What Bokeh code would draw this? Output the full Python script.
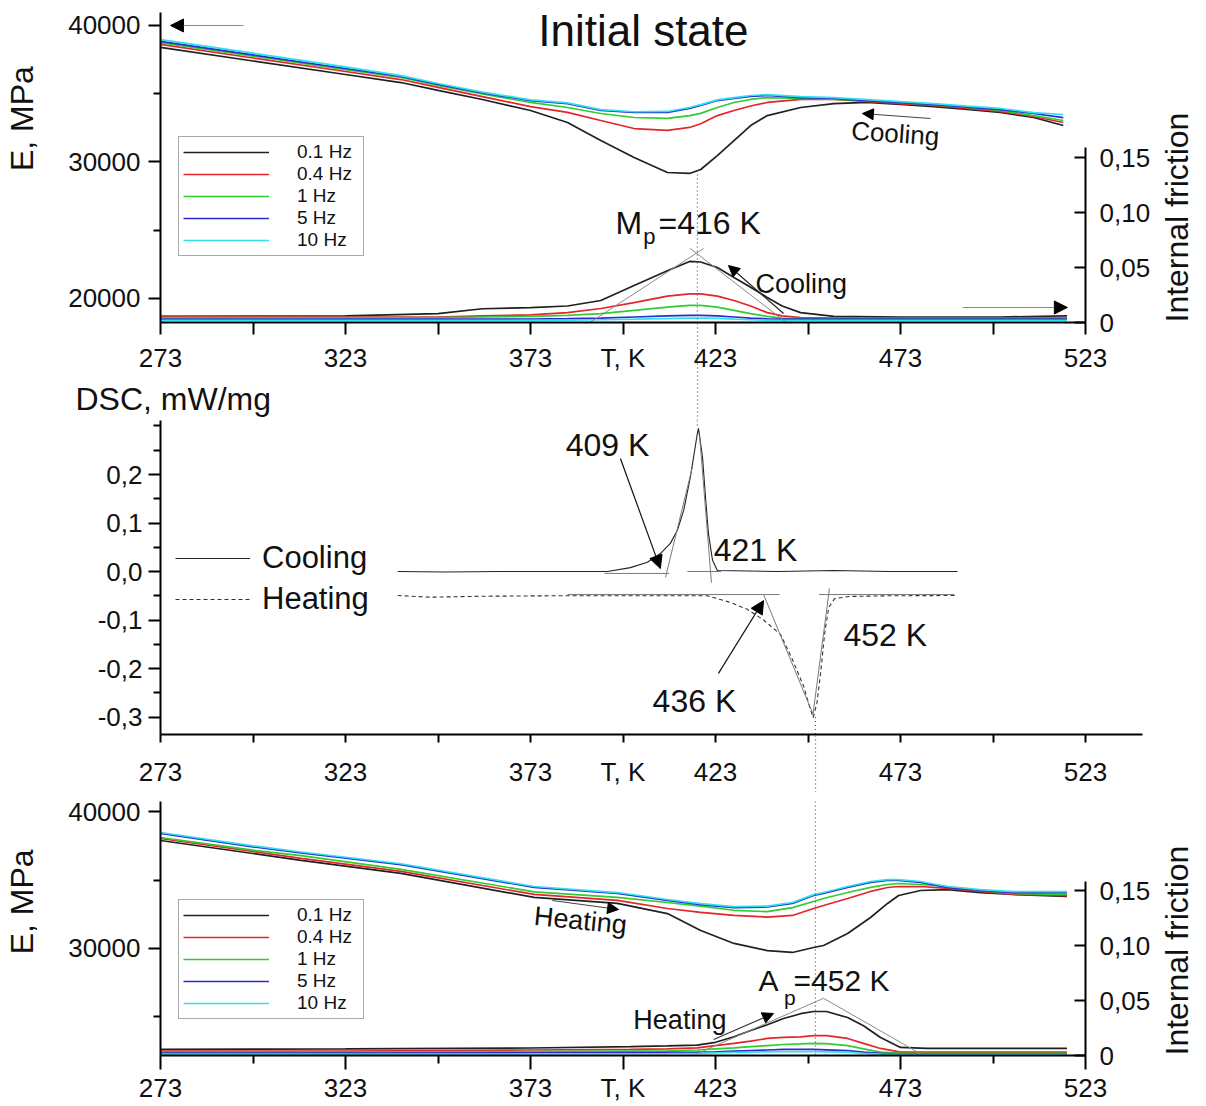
import numpy as np
from bokeh.plotting import figure
from bokeh.layouts import column
from bokeh.models import (Range1d, LinearAxis, FixedTicker, Label, Arrow, NormalHead,
                          Legend, LegendItem, CustomJSTickFormatter, Title)
from bokeh.embed import file_html
from bokeh.resources import INLINE

FONT = "Liberation Sans"
NB = "\u00a0"

# ---------------- data ----------------
freq_labels = ["0.1 Hz", "0.4 Hz", "1 Hz", "5 Hz", "10 Hz"]
freq_colors = ["#202020", "#e3262b", "#30cc30", "#2a2ad6", "#30e0ea"]

T_ticks_all = [273, 298, 323, 348, 373, 398, 423, 448, 473, 498, 523]
T_ticks_bot = [273, 323, 373, 398, 423, 473, 523]
T_minor_bot = [298, 348, 448, 498]

# Top panel (cooling): Young's modulus E, MPa
T_cool_E = [273, 298, 323, 338, 348, 360, 373, 383, 392, 401, 410, 416, 419, 423.5, 428, 432.5,
            437, 446, 455, 464, 473, 482, 491, 500, 509, 517]
E_cool_01 = [38390, 37400, 36410, 35820, 35240, 34580, 33770, 32890, 31570, 30330, 29230, 29160,
             29450, 30470, 31570, 32670, 33400, 33990, 34280, 34360, 34210, 34060, 33850, 33630, 33260, 32670]
E_cool_04 = [38610, 37620, 36630, 36040, 35460, 34790, 34060, 33630, 33040, 32450, 32310, 32530,
             32800, 33400, 33770, 34100, 34360, 34580, 34580, 34430, 34280, 34140, 33920, 33700, 33330, 32890]
E_cool_1 = [38750, 37760, 36770, 36190, 35610, 34980, 34360, 33990, 33550, 33260, 33190, 33400,
            33560, 33990, 34360, 34580, 34720, 34650, 34600, 34500, 34350, 34200, 33990, 33770, 33400, 33040]
E_cool_5 = [38830, 37840, 36850, 36260, 35680, 35060, 34500, 34280, 33770, 33630, 33630, 33920,
            34150, 34500, 34650, 34800, 34870, 34720, 34650, 34500, 34350, 34210, 34020, 33840, 33550, 33250]
E_cool_10 = [38970, 37970, 36970, 36330, 35750, 35120, 34550, 34330, 33830, 33680, 33700, 33990,
             34200, 34550, 34720, 34870, 34940, 34790, 34720, 34570, 34420, 34280, 34090, 33920, 33620, 33480]

# Top panel (cooling): internal friction
T_cool_Q = [273, 323, 348, 360, 373, 383, 392, 401, 410, 416, 419, 423.5, 428, 432.5, 437, 441,
            446, 455, 473, 500, 518]
Q_cool_01 = [0.0055, 0.006, 0.008, 0.0125, 0.0135, 0.015, 0.020, 0.0336, 0.047, 0.0555, 0.0550,
             0.050, 0.041, 0.032, 0.0227, 0.015, 0.009, 0.0055, 0.005, 0.005, 0.006]
Q_cool_04 = [0.0055, 0.005, 0.005, 0.006, 0.007, 0.009, 0.0127, 0.018, 0.024, 0.026, 0.026,
             0.024, 0.020, 0.015, 0.009, 0.006, 0.0045, 0.004, 0.004, 0.004, 0.0045]
Q_cool_1 = [0.0045, 0.0045, 0.0045, 0.005, 0.0055, 0.0065, 0.008, 0.011, 0.014, 0.0155, 0.0155,
            0.014, 0.011, 0.008, 0.0055, 0.004, 0.0035, 0.0035, 0.0035, 0.0035, 0.004]
Q_cool_5 = [0.003, 0.003, 0.003, 0.003, 0.0032, 0.0035, 0.004, 0.005, 0.006, 0.0064, 0.0064,
            0.006, 0.005, 0.004, 0.0033, 0.003, 0.003, 0.003, 0.003, 0.003, 0.003]
Q_cool_10 = [0.002, 0.002, 0.002, 0.002, 0.002, 0.0022, 0.0025, 0.003, 0.0036, 0.004, 0.004,
             0.0037, 0.003, 0.0025, 0.002, 0.002, 0.002, 0.002, 0.002, 0.002, 0.002]

# tangent construction for Mp (internal friction units)
Mp_tan_left_T = [385.7, 419.8]
Mp_tan_left_Q = [-0.0073, 0.0673]
Mp_tan_right_T = [416.2, 446.0]
Mp_tan_right_Q = [0.0673, -0.010]
T_Mp_line = 418.1
E_Mp_line_top = 29376

# Middle panel: DSC, mW/mg
T_dsc_cool = [337.1, 350, 365, 380, 393.8, 400.0, 404.6, 408.1, 410.8, 412.7, 414.4, 416.2, 418.1,
              418.4, 419.5, 420.3, 421.1, 422.2, 423.5, 440, 455, 470, 488.4]
dsc_cool = [0.0, -0.001, 0.0, 0.0, 0.0, 0.008, 0.019, 0.037, 0.058, 0.085, 0.126, 0.194, 0.285,
            0.295, 0.235, 0.153, 0.078, 0.023, 0.002, 0.0, 0.002, 0.0, 0.0]
T_dsc_heat = [337.1, 346.0, 360, 380, 400, 420.8, 427.1, 431.6, 436.0, 440.6, 443.7, 446.8, 448.4,
              449.4, 450.4, 451.4, 452.5, 453.6, 455.2, 459.2, 470, 487.6]
dsc_heat = [-0.0495, -0.053, -0.051, -0.050, -0.050, -0.050, -0.064, -0.078, -0.100, -0.130,
            -0.180, -0.236, -0.278, -0.301, -0.272, -0.210, -0.128, -0.074, -0.056, -0.0515, -0.050, -0.0495]

cool_base_L_T, cool_base_L_v = [393.0, 410.5], [-0.004, -0.004]
cool_tan_L_T, cool_tan_L_v = [409.5, 416.9], [-0.012, 0.220]
cool_base_R_T, cool_base_R_v = [415.4, 424.5], [0.0, 0.0]
cool_tan_R_T, cool_tan_R_v = [421.9, 418.7], [-0.023, 0.280]
heat_base_L_T, heat_base_L_v = [383.0, 440.3], [-0.0475, -0.0475]
heat_tan_L_T, heat_tan_L_v = [436.0, 449.3], [-0.0475, -0.293]
heat_base_R_T, heat_base_R_v = [451.0, 487.6], [-0.0475, -0.0475]
heat_tan_R_T, heat_tan_R_v = [453.8, 449.3], [-0.035, -0.297]
T_Ap_line = 450.0

# Bottom panel (heating): Young's modulus E, MPa
T_heat_E = [273, 298, 311, 338, 374, 396.5, 410, 419, 428, 437, 443.8, 449.5, 452.2, 458.7, 464.9,
            469.5, 472.5, 478.4, 485.7, 494.6, 503.5, 518]
E_heat_01 = [37910, 36960, 36450, 35500, 33740, 33300, 32560, 31320, 30370, 29850, 29710, 30070,
             30220, 31100, 32270, 33300, 33880, 34250, 34320, 34100, 33960, 33810]
E_heat_04 = [38060, 37110, 36600, 35650, 33960, 33520, 32930, 32640, 32420, 32300, 32420, 32930,
             33150, 33660, 34180, 34470, 34540, 34540, 34400, 34180, 33960, 33880]
E_heat_1 = [38130, 37200, 36800, 35800, 34150, 33740, 33370, 33100, 32800, 32700, 32990, 33440,
            33660, 34100, 34480, 34690, 34760, 34690, 34540, 34250, 34030, 33960]
E_heat_5 = [38430, 37450, 37000, 36150, 34470, 34030, 33520, 33220, 33000, 33040, 33300, 33880,
            34030, 34470, 34840, 34980, 34980, 34840, 34470, 34250, 34100, 34100]
E_heat_10 = [38500, 37520, 37070, 36210, 34540, 34100, 33590, 33290, 33070, 33110, 33370, 33950,
             34100, 34540, 34910, 35050, 35050, 34910, 34540, 34320, 34170, 34170]

# Bottom panel (heating): internal friction
T_heat_Q = [273, 323, 373, 400, 410, 418, 423, 428, 432.5, 437, 441.4, 446, 449.5, 453, 458.7,
            463, 467.6, 473, 480, 500, 518]
Q_heat_01 = [0.0055, 0.006, 0.0068, 0.008, 0.0088, 0.0095, 0.012, 0.017, 0.0227, 0.028, 0.0336,
             0.038, 0.040, 0.040, 0.0345, 0.027, 0.0164, 0.0073, 0.0064, 0.0064, 0.0064]
Q_heat_04 = [0.004, 0.004, 0.005, 0.0055, 0.006, 0.007, 0.009, 0.011, 0.013, 0.0155, 0.0165,
             0.017, 0.018, 0.018, 0.0155, 0.011, 0.0064, 0.003, 0.003, 0.003, 0.003]
Q_heat_1 = [0.003, 0.003, 0.0035, 0.004, 0.004, 0.005, 0.006, 0.007, 0.008, 0.009, 0.010,
            0.0105, 0.011, 0.0108, 0.009, 0.006, 0.003, 0.002, 0.002, 0.002, 0.002]
Q_heat_5 = [0.0022, 0.0022, 0.0024, 0.0026, 0.0028, 0.003, 0.0034, 0.004, 0.0045, 0.005, 0.0055,
            0.0055, 0.0055, 0.0052, 0.0045, 0.003, 0.002, 0.0015, 0.0015, 0.0015, 0.0015]
Q_heat_10 = [0.0012, 0.0012, 0.0014, 0.0016, 0.0018, 0.002, 0.0024, 0.0028, 0.003, 0.0033, 0.0035,
             0.0035, 0.0035, 0.0033, 0.003, 0.002, 0.0013, 0.001, 0.001, 0.001, 0.001]

Ap_tan_left_T, Ap_tan_left_Q = [418.1, 452.2], [0.0018, 0.052]
Ap_tan_right_T, Ap_tan_right_Q = [452.2, 479.2], [0.052, 0.0]

# ---------------- helpers ----------------
T_FMT_CODE = ("if (Math.abs(tick - 398) < 0.01) { return 'T, K'; } "
              "if (Math.abs((tick - 273) % 50) > 0.01) { return ''; } "
              "return tick.toFixed(0);")


def make_fig(fw, fh, xr, yr, mbl, mbr, mbt, mbb):
    p = figure(frame_width=fw, frame_height=fh, x_range=xr, y_range=yr, output_backend="svg",
               toolbar_location=None, min_border_left=mbl, min_border_right=mbr,
               min_border_top=mbt, min_border_bottom=mbb)
    p.grid.visible = False
    p.outline_line_color = None
    p.background_fill_color = "white"
    p.border_fill_color = "white"
    return p


def style_axis(ax, standoff=10, major_out=12, minor_out=7, size="26px"):
    ax.axis_line_color = "black"
    ax.axis_line_width = 2
    ax.major_tick_line_color = "black"
    ax.minor_tick_line_color = "black"
    ax.major_tick_line_width = 2
    ax.minor_tick_line_width = 2
    ax.major_tick_in = 0
    ax.minor_tick_in = 0
    ax.major_tick_out = major_out
    ax.minor_tick_out = minor_out
    ax.major_label_text_font = FONT
    ax.major_label_text_font_size = size
    ax.major_label_text_color = "#111111"
    ax.major_label_standoff = standoff


def dotted_minor(ax, length):
    ax.minor_tick_out = length
    ax.minor_tick_line_dash = "1 3"
    ax.minor_tick_line_color = "#555555"
    ax.minor_tick_line_width = 1.2


def add_label(p, x, y, text, size, align="left", angle=0.0):
    p.add_layout(Label(x=x, y=y, text=text, text_font=FONT, text_font_size=f"{size}px",
                       text_align=align, text_baseline="middle", angle=angle,
                       text_color="#111111"))


def add_arrow(p, x0, y0, x1, y1, color="#333333", head=12, width=1.2):
    p.add_layout(Arrow(end=NormalHead(size=head, fill_color="black", line_color="black",
                                      line_width=1),
                       x_start=x0, y_start=y0, x_end=x1, y_end=y1,
                       line_color=color, line_width=width))


def left_title(p, text, size, standoff):
    ax = LinearAxis(ticker=FixedTicker(ticks=[]), axis_label=text)
    ax.axis_line_color = None
    ax.major_tick_out = 0
    ax.major_tick_in = 0
    ax.minor_tick_out = 0
    ax.minor_tick_in = 0
    ax.major_label_standoff = 0
    ax.axis_label_standoff = standoff
    ax.axis_label_text_font = FONT
    ax.axis_label_text_font_size = f"{size}px"
    ax.axis_label_text_font_style = "normal"
    ax.axis_label_text_color = "#111111"
    p.add_layout(ax, "left")


def right_title(p, text, size, standoff):
    # rotated single tick label that starts at friction = 0 and reads upwards
    ax = LinearAxis(y_range_name="if")
    ax.ticker = FixedTicker(ticks=[0.0])
    ax.major_label_overrides = {0.0: text}
    ax.major_label_orientation = np.pi / 2
    ax.axis_line_color = None
    ax.major_tick_out = 0
    ax.major_tick_in = 0
    ax.minor_tick_out = 0
    ax.minor_tick_in = 0
    ax.major_label_standoff = standoff
    ax.major_label_text_font = FONT
    ax.major_label_text_font_size = f"{size}px"
    ax.major_label_text_color = "#111111"
    p.add_layout(ax, "right")


def right_axis(p, top):
    ax = LinearAxis(y_range_name="if")
    ax.ticker = FixedTicker(ticks=[0.0, 0.05, 0.1, 0.15])
    ax.major_label_overrides = {0.0: "0", 0.05: "0,05", 0.1: "0,10", 0.15: "0,15"}
    ax.bounds = (0.0, top)
    style_axis(ax, standoff=14, major_out=0, minor_out=0)
    ax.major_tick_in = 11
    p.add_layout(ax, "right")


def freq_panel(p, T_E, E_list, T_Q, Q_list, legend_loc):
    rs = []
    for E, c in zip(E_list, freq_colors):
        rs.append(p.line(T_E, E, line_color=c, line_width=1.7))
    for Q, c in zip(Q_list, freq_colors):
        p.line(T_Q, Q, line_color=c, line_width=1.7, y_range_name="if")
    leg = Legend(items=[LegendItem(label=l, renderers=[r]) for l, r in zip(freq_labels, rs)],
                 location=legend_loc, border_line_color="#555555", border_line_width=1,
                 background_fill_color="white", label_text_font=FONT,
                 label_text_font_size="19px", label_text_color="#111111",
                 glyph_width=86, glyph_height=20, label_height=20, label_width=62,
                 label_standoff=28, spacing=0, padding=4, margin=0)
    p.add_layout(leg)
    p.yaxis.ticker = FixedTicker(ticks=[20000, 30000, 40000], minor_ticks=[25000, 35000])
    p.yaxis.formatter = CustomJSTickFormatter(code="return tick.toFixed(0);")
    style_axis(p.yaxis[0], standoff=8)


# ---------------- top panel ----------------
pA = make_fig(925, 310, Range1d(273, 523), Range1d(18240, 40951), 160, 121, 12, 98)
pA.extra_y_ranges = {"if": Range1d(0, 0.28182)}
freq_panel(pA, T_cool_E, [E_cool_01, E_cool_04, E_cool_1, E_cool_5, E_cool_10],
           T_cool_Q, [Q_cool_01, Q_cool_04, Q_cool_1, Q_cool_5, Q_cool_10], (18, 66))
right_axis(pA, 0.159)
left_title(pA, NB * 11 + "E, MPa", 32, 26)
right_title(pA, "Internal friction", 32, 23)
pA.xaxis.ticker = FixedTicker(ticks=T_ticks_all, minor_ticks=[T_Mp_line])
pA.xaxis.formatter = CustomJSTickFormatter(code=T_FMT_CODE)
style_axis(pA.xaxis[0], standoff=-78, major_out=12)
dotted_minor(pA.xaxis[0], 98)
pA.add_layout(Title(text="DSC, mW/mg", align="left", offset=-85, text_font=FONT,
                    text_font_size="32px", text_font_style="normal", text_color="#111111",
                    standoff=6), "below")

pA.line(Mp_tan_left_T, Mp_tan_left_Q, line_color="#8a8a8a", line_width=1, y_range_name="if")
pA.line(Mp_tan_right_T, Mp_tan_right_Q, line_color="#8a8a8a", line_width=1, y_range_name="if")
pA.line([T_Mp_line, T_Mp_line], [E_Mp_line_top, 18240], line_color="#555555", line_width=1.2,
        line_dash="1 3")

add_label(pA, 403.5, 39632, "Initial state", 44, align="center")
add_label(pA, 471.6, 32086, "Cooling", 26, align="center", angle=-0.07)
add_label(pA, 433.8, 21097, "Cooling", 27)
add_label(pA, 396.0, 25566, "M", 32)
add_label(pA, 403.5, 24540, "p", 22)
add_label(pA, 407.6, 25566, "=416 K", 32)
add_arrow(pA, 295.4, 40000, 275.7, 40000, color="#8a8a8a", head=13)
add_arrow(pA, 489.8, 19339, 518.1, 19339, color="#8a8a8a", head=13)
add_arrow(pA, 481.1, 33185, 462.7, 33551, color="#444444", head=11)
add_arrow(pA, 441.4, 18899, 426.5, 22416, color="#222222", head=11)

# ---------------- DSC panel ----------------
pB = make_fig(982, 314, Range1d(273, 538.405), Range1d(-0.33608, 0.31134), 160, 64, 0, 58)
r_cool = pB.line(T_dsc_cool, dsc_cool, line_color="#222222", line_width=1.1)
r_heat = pB.line(T_dsc_heat, dsc_heat, line_color="#333333", line_width=1.1, line_dash="4 3")
for tx, ty in [(cool_base_L_T, cool_base_L_v), (cool_tan_L_T, cool_tan_L_v),
               (cool_base_R_T, cool_base_R_v), (cool_tan_R_T, cool_tan_R_v),
               (heat_base_L_T, heat_base_L_v), (heat_tan_L_T, heat_tan_L_v),
               (heat_base_R_T, heat_base_R_v), (heat_tan_R_T, heat_tan_R_v)]:
    pB.line(tx, ty, line_color="#7a7a7a", line_width=1)
pB.line([T_Mp_line, T_Mp_line], [0.31134, 0.295], line_color="#555555", line_width=1.2,
        line_dash="1 3")
pB.line([T_Ap_line, T_Ap_line], [-0.30, -0.33608], line_color="#555555", line_width=1.2,
        line_dash="1 3")
pB.xaxis.ticker = FixedTicker(ticks=T_ticks_all, minor_ticks=[T_Ap_line])
pB.xaxis.formatter = CustomJSTickFormatter(code=T_FMT_CODE)
pB.yaxis.ticker = FixedTicker(ticks=[-0.3, -0.2, -0.1, 0.0, 0.1, 0.2],
                              minor_ticks=[-0.25, -0.15, -0.05, 0.05, 0.15, 0.25, 0.3])
pB.yaxis.formatter = CustomJSTickFormatter(code="return tick.toFixed(1).replace('.', ',');")
style_axis(pB.xaxis[0], standoff=-36, major_out=8)
dotted_minor(pB.xaxis[0], 58)
style_axis(pB.yaxis[0], standoff=6, major_out=12, minor_out=7)
legB = Legend(items=[LegendItem(label="Cooling", renderers=[r_cool]),
                     LegendItem(label="Heating", renderers=[r_heat])],
              location=(15, 117), border_line_color=None, background_fill_alpha=0,
              label_text_font=FONT, label_text_font_size="31px", label_text_color="#111111",
              glyph_width=75, glyph_height=36, label_height=36, label_standoff=12,
              spacing=5, padding=0, margin=0)
pB.add_layout(legB)
add_label(pB, 382.5, 0.2598, "409 K", 32)
add_label(pB, 422.5, 0.0433, "421 K", 32)
add_label(pB, 406.0, -0.266, "436 K", 32)
add_label(pB, 457.6, -0.1299, "452 K", 32)
add_arrow(pB, 397.3, 0.233, 408.1, 0.006, color="#111111", head=13)
add_arrow(pB, 423.8, -0.210, 436.0, -0.060, color="#111111", head=13)

# ---------------- bottom panel ----------------
pC = make_fig(925, 254, Range1d(273, 523), Range1d(22161, 40769), 160, 121, 9, 51)
pC.extra_y_ranges = {"if": Range1d(0, 0.23091)}
freq_panel(pC, T_heat_E, [E_heat_01, E_heat_04, E_heat_1, E_heat_5, E_heat_10],
           T_heat_Q, [Q_heat_01, Q_heat_04, Q_heat_1, Q_heat_5, Q_heat_10], (18, 36))
right_axis(pC, 0.158)
left_title(pC, NB * 6 + "E, MPa", 32, 26)
right_title(pC, "Internal friction", 32, 23)
pC.xaxis.ticker = FixedTicker(ticks=T_ticks_bot, minor_ticks=T_minor_bot)
pC.xaxis.formatter = CustomJSTickFormatter(code=T_FMT_CODE)
style_axis(pC.xaxis[0], standoff=3, major_out=14, minor_out=8)
pC.line(Ap_tan_left_T, Ap_tan_left_Q, line_color="#8a8a8a", line_width=1, y_range_name="if")
pC.line(Ap_tan_right_T, Ap_tan_right_Q, line_color="#8a8a8a", line_width=1, y_range_name="if")
pC.line([T_Ap_line, T_Ap_line], [40769, 22161], line_color="#555555", line_width=1.2,
        line_dash="1 3")
add_label(pC, 386.5, 32051, "Heating", 27, align="center", angle=-0.1)
add_label(pC, 400.8, 24798, "Heating", 27)
add_label(pC, 434.6, 27656, "A", 30)
add_label(pC, 441.5, 26410, "p", 21)
add_label(pC, 444.1, 27656, "=452 K", 30)
add_arrow(pC, 378.9, 33517, 396.8, 32857, color="#444444", head=11)
add_arrow(pC, 422.5, 23334, 438.7, 25238, color="#333333", head=11)

layout = column(pA, pB, pC, spacing=0)
open("out.html", "w").write(file_html(layout, INLINE))
